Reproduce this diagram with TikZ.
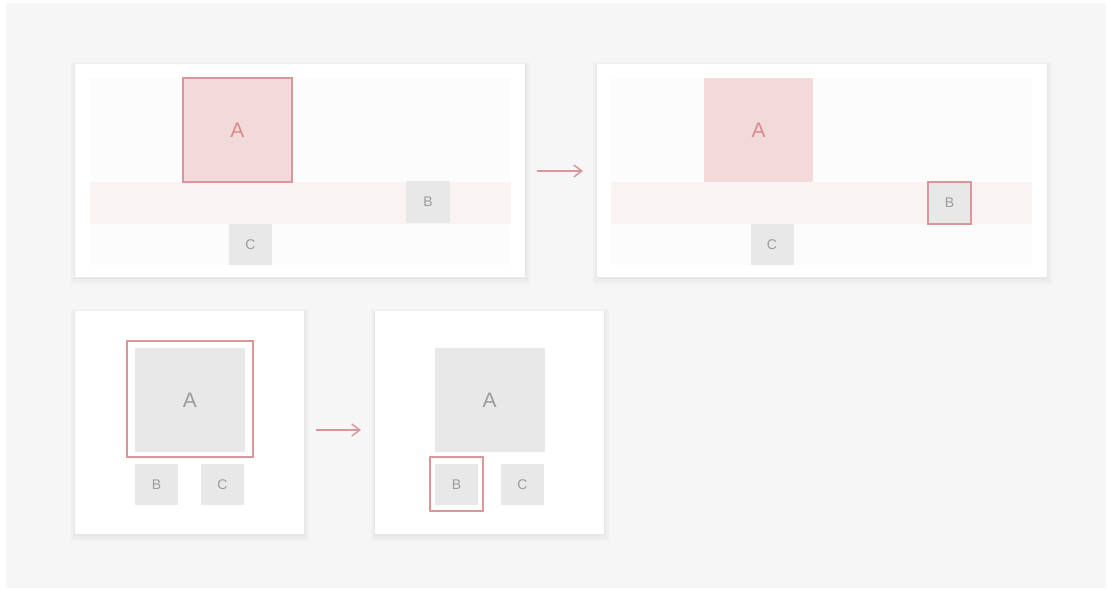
\documentclass[tikz,border=0pt]{standalone}
\usepackage{fontspec}
\setmainfont{Liberation Sans}
\usetikzlibrary{arrows.meta,positioning}
\definecolor{canvas}{HTML}{F6F6F6}
\definecolor{lanefill}{HTML}{FCFCFC}
\definecolor{bandfill}{HTML}{FAF3F3}
\definecolor{selfill}{HTML}{F2DADB}
\definecolor{selline}{HTML}{D9979A}
\definecolor{seltext}{HTML}{D98A8D}
\definecolor{blkfill}{HTML}{E8E8E8}
\definecolor{blktext}{HTML}{9C9C9C}
\tikzset{
  % Soft halo under a card
  halo/.style={preaction={draw=black, draw opacity=#1, line width=9pt,
               transform canvas={yshift=-2pt}},
               preaction={draw=black, draw opacity=#1, line width=5pt,
               transform canvas={yshift=-2pt}},
               preaction={draw=black, draw opacity=#1, line width=2pt,
               transform canvas={yshift=-1pt}}},
  % White card holding one layout
  panel/.style={rectangle, fill=white, draw=none, inner sep=0pt, halo=0.018},
  % Rows inside a card
  lane/.style={rectangle, fill=lanefill, inner sep=0pt},
  band/.style={rectangle, fill=bandfill, inner sep=0pt},
  % Blocks
  blk/.style={rectangle, fill=blkfill, text=blktext, inner sep=0pt,
              font=\fontsize{14}{16}\selectfont},
  blk-big/.style={blk, font=\fontsize{21}{24}\selectfont},
  blk-sel/.style={blk-big, fill=selfill, text=seltext},
  % Focus outline
  selring/.style={rectangle, draw=selline, line width=1.6pt, inner sep=0pt},
  % Arrows
  flowarr/.style={-{Straight Barb[length=8pt,width=12pt]}, draw=selline, line width=1.5pt}
}
\begin{document}
\begin{tikzpicture}[x=1pt, y=-1pt]
\useasboundingbox (0,0) rectangle (1108,589);
\fill[canvas] (6,3) rectangle (1106,588);

% ============== TOP ROW: wide cards ==============
\node[panel, minimum width=450pt, minimum height=213pt] (p1) at (300,170.5) {};
\node[lane, minimum width=420pt, minimum height=187pt] (lane1) at (300,171.5) {};
\node[band, minimum width=421pt, minimum height=42pt] (band1) at (300.5,203) {};
\node[blk-sel, selring, minimum width=109pt, minimum height=104pt] (a1) at (237.5,130) {A};
\node[blk, minimum width=44pt, minimum height=42pt] (b1) at (428,202) {B};
\node[blk, minimum width=43pt, minimum height=41pt] (c1) at (250.5,244.5) {C};

\node[panel, minimum width=450pt, minimum height=213pt] (p2) at (822,170.5) {};
\node[lane, minimum width=421pt, minimum height=187pt] (lane2) at (821.5,171.5) {};
\node[band, minimum width=421pt, minimum height=42pt] (band2) at (821.5,203) {};
\node[blk-sel, minimum width=109pt, minimum height=104pt] (a2) at (758.5,130) {A};
\node[blk, selring, minimum width=43pt, minimum height=42pt] (b2) at (949.5,203) {B};
\node[blk, minimum width=43pt, minimum height=41pt] (c2) at (772,244.5) {C};

\coordinate (t1) at (537,171);
\coordinate (t2) at (583,171);
\draw[flowarr] (t1) -- (t2);

% ============== BOTTOM ROW: square cards ==============
\node[panel, minimum width=229pt, minimum height=223pt] (p3) at (189.5,422.5) {};
\node[selring, minimum width=126pt, minimum height=116pt] (ring3) at (190,399) {};
\node[blk-big, minimum width=110pt, minimum height=104pt] (a3) at (190,400) {A};
\node[blk, minimum width=43pt, minimum height=41pt] (b3) at (156.5,484.5) {B};
\node[blk, minimum width=43pt, minimum height=41pt] (c3) at (222.5,484.5) {C};

\node[panel, minimum width=229pt, minimum height=223pt] (p4) at (489.5,422.5) {};
\node[blk-big, minimum width=110pt, minimum height=104pt] (a4) at (489.5,400) {A};
\node[selring, minimum width=53pt, minimum height=54pt] (ring4) at (456.5,484) {};
\node[blk, minimum width=43pt, minimum height=41pt] (b4) at (456.5,484.5) {B};
\node[blk, minimum width=43pt, minimum height=41pt] (c4) at (522.5,484.5) {C};

\coordinate (s1) at (316,430);
\coordinate (s2) at (361,430);
\draw[flowarr] (s1) -- (s2);

\end{tikzpicture}
\end{document}
